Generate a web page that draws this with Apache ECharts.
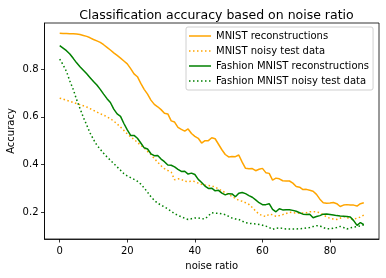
<!DOCTYPE html>
<html>
<head>
<meta charset="utf-8">
<script src="https://cdn.jsdelivr.net/npm/echarts@6/dist/echarts.min.js"></script>
<style>html,body{margin:0;padding:0;background:#fff}#c{width:386px;height:278px}</style>
</head>
<body>
<div id="c"></div>
<script>
var noiseRatio = [];
for (var i = 0; i <= 90; i++) noiseRatio.push(i);

var mnistRecon = [
0.950,0.949,0.949,0.948,0.948,0.947,0.945,0.941,0.937,0.931,
0.924,0.918,0.912,0.902,0.891,0.880,0.868,0.857,0.846,0.834,
0.822,0.802,0.780,0.768,0.740,0.715,0.695,0.670,0.652,0.642,
0.630,0.615,0.612,0.583,0.578,0.556,0.547,0.540,0.549,0.530,
0.518,0.510,0.490,0.500,0.500,0.512,0.508,0.485,0.462,0.442,
0.432,0.434,0.433,0.440,0.410,0.384,0.382,0.383,0.374,0.380,
0.384,0.366,0.363,0.335,0.343,0.340,0.332,0.331,0.331,0.322,
0.308,0.305,0.295,0.296,0.292,0.288,0.275,0.255,0.240,0.238,
0.239,0.241,0.236,0.224,0.230,0.232,0.230,0.230,0.226,0.236,
0.240];

var mnistNoisy = [
0.678,0.674,0.669,0.665,0.660,0.655,0.651,0.646,0.641,0.634,
0.627,0.620,0.613,0.607,0.600,0.592,0.582,0.570,0.557,0.543,
0.528,0.516,0.505,0.493,0.480,0.470,0.455,0.442,0.425,0.410,
0.395,0.383,0.375,0.368,0.336,0.340,0.338,0.330,0.329,0.330,
0.329,0.322,0.317,0.314,0.312,0.311,0.305,0.298,0.290,0.282,
0.275,0.266,0.258,0.250,0.246,0.240,0.233,0.220,0.205,0.192,
0.186,0.182,0.192,0.190,0.183,0.186,0.190,0.195,0.200,0.198,
0.197,0.196,0.197,0.198,0.202,0.203,0.201,0.198,0.190,0.180,
0.175,0.172,0.170,0.175,0.182,0.178,0.172,0.172,0.175,0.180,
0.188];

var fashionRecon = [
0.898,0.888,0.877,0.863,0.845,0.826,0.810,0.795,0.780,0.764,
0.748,0.733,0.715,0.695,0.676,0.660,0.632,0.612,0.602,0.572,
0.545,0.522,0.522,0.510,0.490,0.470,0.465,0.445,0.437,0.438,
0.423,0.412,0.398,0.397,0.390,0.380,0.371,0.372,0.360,0.364,
0.358,0.338,0.325,0.310,0.300,0.301,0.290,0.292,0.280,0.273,
0.278,0.277,0.265,0.280,0.283,0.278,0.270,0.263,0.252,0.240,
0.232,0.232,0.236,0.212,0.202,0.215,0.210,0.211,0.211,0.208,
0.204,0.198,0.192,0.191,0.192,0.177,0.182,0.186,0.192,0.193,
0.191,0.189,0.186,0.184,0.183,0.182,0.180,0.165,0.145,0.157,
0.148];

var fashionNoisy = [
0.842,0.818,0.790,0.750,0.715,0.672,0.635,0.598,0.565,0.532,
0.505,0.481,0.464,0.447,0.432,0.418,0.404,0.390,0.376,0.362,
0.352,0.345,0.338,0.330,0.318,0.302,0.284,0.265,0.250,0.238,
0.230,0.222,0.214,0.204,0.194,0.187,0.181,0.175,0.170,0.173,
0.176,0.176,0.173,0.172,0.185,0.198,0.196,0.196,0.193,0.190,
0.183,0.176,0.172,0.170,0.163,0.156,0.154,0.152,0.151,0.149,
0.146,0.142,0.136,0.128,0.133,0.135,0.132,0.130,0.130,0.130,
0.130,0.131,0.132,0.134,0.136,0.140,0.144,0.143,0.136,0.131,
0.131,0.133,0.136,0.141,0.136,0.130,0.135,0.138,0.140,0.143,
0.148];

var xTicks = [0, 20, 40, 60, 80];
var yTicks = [0.2, 0.4, 0.6, 0.8];
var seriesNames = ['MNIST reconstructions', 'MNIST noisy test data', 'Fashion MNIST reconstructions', 'Fashion MNIST noisy test data'];

function pairs(ys) { return ys.map(function (v, i) { return [noiseRatio[i], v]; }); }

var FONT = 'DejaVu Sans';
var SOLID_ICON = 'path://M0,0L0,0M0,12L0,12M0,5.25H22V6.75H0Z';
var DOT_ICON = 'path://M0,0L0,0M0,12L0,12M0,5.25H1.5V6.75H0ZM4,5.25H5.5V6.75H4ZM8,5.25H9.5V6.75H8ZM12,5.25H13.5V6.75H12ZM16,5.25H17.5V6.75H16ZM20,5.25H21.5V6.75H20ZM21.99,5.25H22V5.26H21.99Z';
var chart = echarts.init(document.getElementById('c'), null, { renderer: 'canvas' });
var dotted = [1.5, 2.5];
chart.setOption({
  animation: false,
  backgroundColor: '#fff',
  title: {
    text: 'Classification accuracy based on noise ratio',
    left: 211.5, top: 4, textAlign: 'center',
    textStyle: { fontFamily: FONT, fontSize: 12.5, fontWeight: 'normal', color: '#000' }
  },
  grid: { left: 44.5, right: 7, top: 23, bottom: 39, outerBoundsMode: 'none', containLabel: false,
    show: true, borderColor: '#000', borderWidth: 0.8, backgroundColor: 'transparent' },
  legend: {
    orient: 'vertical', left: 186, top: 27,
    itemWidth: 22, itemHeight: 12, itemGap: 3,
    padding: [3, 4, 3, 3],
    backgroundColor: 'rgba(255,255,255,0.8)',
    borderColor: '#d0d0d0', borderWidth: 1, borderRadius: 2,
    itemStyle: { borderWidth: 0 },
    textStyle: { fontFamily: FONT, fontSize: 10, color: '#000', lineHeight: 12 },
    data: [
      { name: seriesNames[0], icon: SOLID_ICON },
      { name: seriesNames[1], icon: DOT_ICON },
      { name: seriesNames[2], icon: SOLID_ICON },
      { name: seriesNames[3], icon: DOT_ICON }
    ]
  },
  xAxis: {
    type: 'value', min: -4.5, max: 94.5,
    name: 'noise ratio', nameLocation: 'middle', nameGap: 22, nameMoveOverlap: false,
    nameTextStyle: { fontFamily: FONT, fontSize: 10, color: '#000' },
    splitLine: { show: false },
    axisLine: { show: true, onZero: false, lineStyle: { color: '#000', width: 0.8 } },
    axisTick: { show: true, length: 3.5, lineStyle: { color: '#000', width: 0.8 }, customValues: xTicks },
    axisLabel: { fontFamily: FONT, fontSize: 10, color: '#000', margin: 7, customValues: xTicks }
  },
  yAxis: {
    type: 'value', min: 0.088, max: 0.993,
    name: 'Accuracy', nameLocation: 'middle', nameGap: 28, nameRotate: 90, nameMoveOverlap: false,
    nameTextStyle: { fontFamily: FONT, fontSize: 10, color: '#000' },
    splitLine: { show: false },
    axisLine: { show: true, onZero: false, lineStyle: { color: '#000', width: 0.8 } },
    axisTick: { show: true, length: 3.5, lineStyle: { color: '#000', width: 0.8 }, customValues: yTicks },
    axisLabel: { fontFamily: FONT, fontSize: 10, color: '#000', margin: 6, customValues: yTicks,
      formatter: function (v) { return v.toFixed(1); } }
  },
  series: [
    { name: seriesNames[0], type: 'line', data: pairs(mnistRecon), symbol: 'none', color: '#FFA500',
      lineStyle: { color: '#FFA500', width: 1.5 } },
    { name: seriesNames[1], type: 'line', data: pairs(mnistNoisy), symbol: 'none', color: '#FFA500',
      lineStyle: { color: '#FFA500', width: 1.5, type: dotted, cap: 'butt' } },
    { name: seriesNames[2], type: 'line', data: pairs(fashionRecon), symbol: 'none', color: '#008000',
      lineStyle: { color: '#008000', width: 1.5 } },
    { name: seriesNames[3], type: 'line', data: pairs(fashionNoisy), symbol: 'none', color: '#008000',
      lineStyle: { color: '#008000', width: 1.5, type: dotted, cap: 'butt' } }
  ]
});
</script>
</body>
</html>
